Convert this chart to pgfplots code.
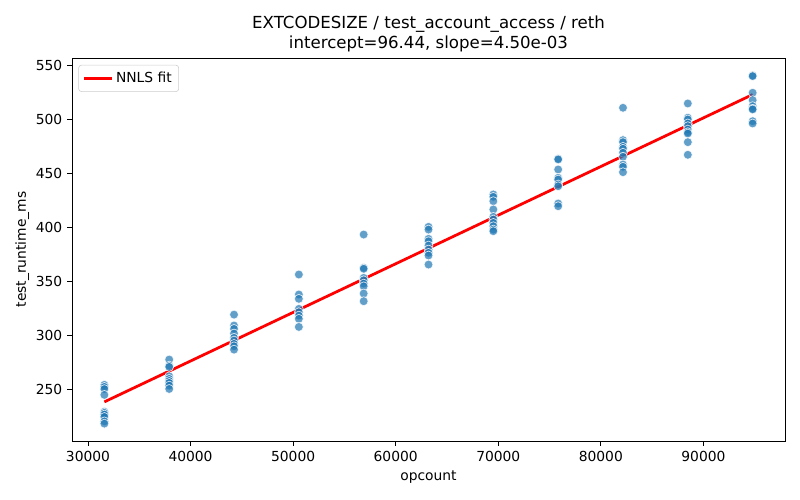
\documentclass[border=0pt]{standalone}
\usepackage{pgfplots}
\pgfplotsset{compat=1.18}
\usepackage{pgfplotstable}
\usepackage{fontspec}
\setmainfont{DejaVu Sans}
\definecolor{mplblue}{HTML}{1F77B4}
\pgfplotstableread{
x y
31600 254.4
31600 252.5
31600 250.5
31600 245.1
31600 229.5
31600 228.4
31600 226.9
31600 224.7
31600 220.6
31600 218.5
37920 277.8
37920 272.2
37920 271.0
37920 262.3
37920 259.9
37920 258.0
37920 256.2
37920 253.7
37920 250.6
44240 319.4
44240 309.3
44240 306.2
44240 301.9
44240 297.9
44240 295.4
44240 292.3
44240 290.1
44240 287.0
50560 356.5
50560 338.0
50560 334.0
50560 324.7
50560 321.6
50560 318.5
50560 315.5
50560 308.0
56880 393.5
56880 362.7
56880 361.8
56880 353.4
56880 351.2
56880 348.1
56880 345.6
56880 338.9
56880 331.8
63200 400.6
63200 398.1
63200 389.5
63200 387.3
63200 383.3
63200 379.6
63200 376.6
63200 374.1
63200 365.7
69520 430.6
69520 428.4
69520 424.4
69520 416.7
69520 409.9
69520 407.4
69520 404.3
69520 401.2
69520 398.1
69520 396.6
75840 463.6
75840 463.0
75840 453.7
75840 446.0
75840 444.4
75840 439.8
75840 438.2
75840 422.2
75840 419.7
82160 510.8
82160 480.9
82160 479.0
82160 474.7
82160 472.9
82160 469.2
82160 465.5
82160 458.3
82160 456.2
82160 451.2
88480 514.8
88480 501.6
88480 500.0
88480 496.3
88480 493.8
88480 490.7
88480 488.2
88480 487.0
88480 479.0
88480 467.3
94800 540.7
94800 540.1
94800 524.7
94800 517.9
94800 512.3
94800 509.9
94800 509.3
94800 498.4
94800 496.3
}\pts
\begin{document}
\begin{tikzpicture}[x=1pt,y=1pt]
\begin{axis}[
  scale only axis,
  width=515.3pt, height=276.8pt,
  xmin=28440, xmax=97960,
  ymin=202.4, ymax=556.9,
  xtick={30000,40000,50000,60000,70000,80000,90000},
  ytick={250,300,350,400,450,500,550},
  scaled x ticks=false, scaled y ticks=false,
  /pgf/number format/1000 sep={},
  /pgf/number format/assume math mode=true,
  tick align=outside,
  major tick length=3.5pt,
  tick style={black, line width=0.6pt},
  xtick pos=bottom, ytick pos=left,
  axis line style={line width=0.6pt},
  ticklabel style={font=\fontsize{10}{12}\selectfont},
  xlabel={opcount},
  ylabel={test\_runtime\_ms},
  ylabel style={yshift=-2pt},
  label style={font=\fontsize{10}{12}\selectfont},
  title style={font=\fontsize{12}{14.5}\selectfont, align=center, yshift=-5.5pt},
  title={EXTCODESIZE / test\_account\_access / reth\\intercept=96.44, slope=4.50e-03},
  legend style={font=\fontsize{10}{12}\selectfont, draw=black!20, rounded corners=2pt,
    inner xsep=3pt, inner ysep=3pt, at={(0.009,0.982)}, anchor=north west},
  legend cell align=left,
  legend image code/.code={\draw[#1] (0pt,0pt) -- (20pt,0pt);},
]
\addplot[only marks, mark=*, mark size=3.2pt,
  mark options={fill=mplblue, fill opacity=0.7, draw=white, draw opacity=0.8, line width=0.5pt},
  forget plot] table[x=x,y=y] {\pts};
\addplot[red, line width=2pt] coordinates {(31600,238.64) (94800,523.04)};
\addlegendentry{NNLS fit}
\end{axis}
\path (current axis.south west) ++(-52pt,-42.6pt) coordinate (bl);
\path (current axis.north east) ++(10.8pt,41.9pt) coordinate (tr);
\path (bl) rectangle (tr);
\end{tikzpicture}
\end{document}
